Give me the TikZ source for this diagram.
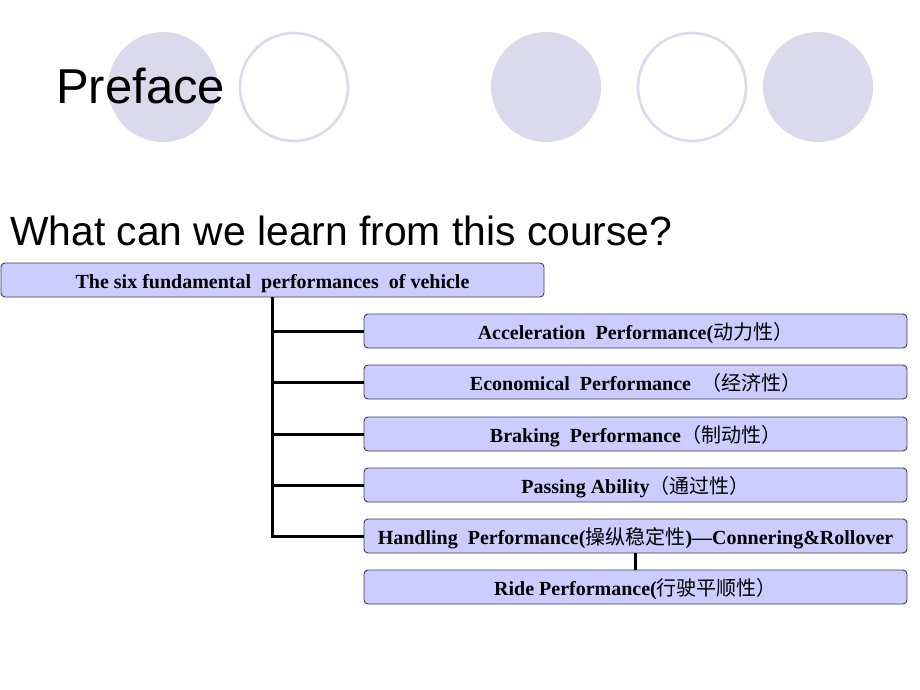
\documentclass[tikz,border=0pt]{standalone}
\usepackage{fontspec}
\setmainfont{Liberation Serif}
\newfontfamily\arialfont{Liberation Sans}
\newfontfamily\cjk{Noto Sans CJK SC}
\usepackage{tikz}
\usetikzlibrary{positioning}
\definecolor{disc}{HTML}{DADAEC}
\definecolor{boxfill}{HTML}{CCCCFF}
\definecolor{boxline}{HTML}{3C3C50}
\newcommand{\zh}[1]{{\cjk\mdseries #1}}
\tikzset{
  perfbox/.style={draw=boxline, fill=boxfill, rounded corners=4pt, line width=0.9pt,
    minimum width=543pt, minimum height=34pt, inner sep=0pt,
    text height=17pt, text depth=1pt,
    font=\fontsize{20}{22}\selectfont\bfseries},
  link/.style={line width=3pt, black}
}

\begin{document}
\begin{tikzpicture}[x=1pt, y=-1pt]
            \useasboundingbox (0,0) rectangle (920,690);
            % decorative discs
            \fill[disc] (163, 87) circle (55);
            \draw[disc, line width=2.6pt] (294, 87) circle (54);
            \fill[disc] (546, 87) circle (55);
            \draw[disc, line width=2.6pt] (692, 87) circle (54);
            \fill[disc] (818, 87) circle (55);
            \node[anchor=base west, inner sep=0pt, font=\arialfont\fontsize{49}{52}\selectfont] (title) at (56, 104) {Preface};
            \node[anchor=base west, inner sep=0pt, font=\arialfont\fontsize{40.8}{44}\selectfont] (question) at (10, 245) {What can we learn from this course?};
            % tree
            \node[perfbox, minimum width=543pt] (root) at (272.5, 280) {The six fundamental\ \ performances\ \ of vehicle};
            \node[perfbox] (accel) at (635.5, 331) {Acceleration\ \ Performance(\zh{动力性）}};
            \node[perfbox] (econ) at (635.5, 382) {Economical\ \ Performance\ \ \zh{（经济性）}};
            \node[perfbox] (brake) at (635.5, 434) {Braking\ \ Performance\zh{（制动性）}};
            \node[perfbox] (pass) at (635.5, 485) {Passing Ability\zh{（通过性）}};
            \node[perfbox] (handle) at (635.5, 536) {Handling\ \ Performance(\zh{操纵稳定性})---Connering\&Rollover};
            \node[perfbox] (ride) at (635.5, 587) {Ride Performance(\zh{行驶平顺性）}};
            \coordinate (trunk) at (272, 0);
            \draw[link] (root.south -| trunk) |- (handle.west);
            \foreach \n in {accel, econ, brake, pass}
                \draw[link] (\n.west -| trunk) -- (\n.west);
            \draw[link] (handle.south) -- (ride.north);
        \end{tikzpicture}
\end{document}
